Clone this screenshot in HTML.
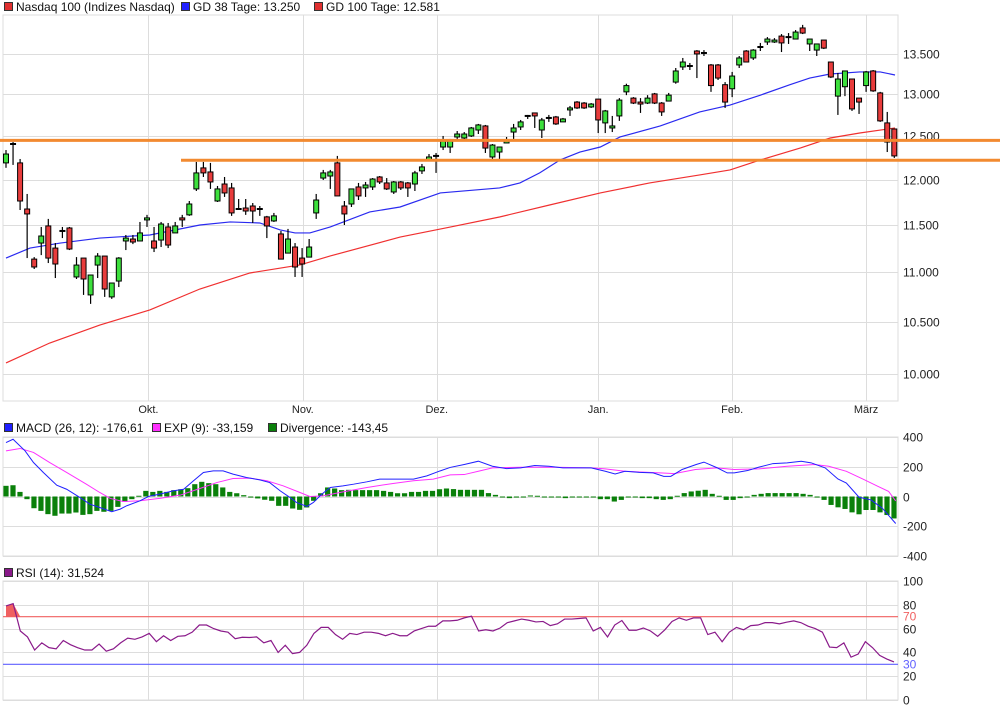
<!DOCTYPE html>
<html><head><meta charset="utf-8"><style>
body{margin:0;background:#fff;}
svg{display:block;font-family:"Liberation Sans",sans-serif;}
</style></head><body>
<svg id="c" width="1000" height="710" xmlns="http://www.w3.org/2000/svg"></svg>
<script>
const opens=[12190,12408,12190,11674,11138,11307,11490,11254,11436,11468,10953,11149,10770,11076,11170,10750,10911,11329,11350,11329,11555,11329,11339,11479,11415,11577,11610,11896,12133,12087,11762,11951,11907,11674,11685,11707,11674,11588,11544,11404,11201,11265,11149,11159,11631,12018,12041,12190,11707,11729,11918,11907,11918,12030,11963,11862,11974,11963,11951,12099,12224,12270,12373,12373,12490,12478,12502,12572,12620,12258,12315,12420,12548,12608,12739,12775,12572,12715,12727,12668,12811,12906,12894,12847,12942,12656,12596,12739,13030,12954,12906,12894,13005,12894,12918,13150,13338,13350,13539,13514,13363,13363,13118,13068,13363,13539,13451,13590,13654,13654,13730,13717,13692,13835,13629,13551,13679,13400,12978,13093,13188,12954,13107,13288,13017,12656,12584];
const closes=[12292,12408,11762,11620,11056,11382,11149,11087,11436,11244,11076,10932,10973,11170,10830,10891,11149,11360,11318,11415,11577,11254,11511,11286,11490,11555,11729,12076,12076,11974,11896,11851,11631,11674,11652,11652,11674,11490,11599,11138,11350,11056,11087,11265,11773,12076,12087,11818,11620,11896,11818,11940,12007,11974,11896,11974,11907,11907,12076,12144,12258,12270,12443,12443,12525,12525,12596,12632,12361,12396,12373,12443,12596,12668,12739,12739,12691,12715,12644,12703,12835,12835,12835,12882,12691,12799,12620,12930,13107,12894,12882,12954,12894,12787,12990,13288,13400,13350,13502,13514,13107,13200,12906,13225,13451,13400,13551,13590,13692,13679,13642,13717,13782,13769,13692,13629,13576,13213,13188,13288,12823,12906,13276,13042,12680,12431,12270];
const highs=[12338,12431,12235,11840,11159,11479,11566,11307,11479,11479,11159,11149,10973,11201,11170,10891,11159,11393,11393,11533,11610,11479,11533,11522,11533,11610,11762,12201,12201,12190,11929,12030,11963,11784,11784,11740,11707,11599,11631,11436,11458,11307,11254,11350,11840,12110,12110,12270,11762,11896,11963,11974,12018,12041,12018,11985,11985,11974,12099,12178,12292,12304,12502,12467,12560,12548,12608,12644,12632,12408,12373,12490,12644,12691,12751,12775,12715,12751,12739,12715,12859,12918,12906,12894,12942,12811,12739,12954,13130,12966,12954,12990,13017,12906,13017,13325,13451,13388,13551,13551,13375,13375,13150,13276,13476,13551,13563,13642,13717,13704,13756,13769,13808,13875,13692,13629,13679,13400,13263,13288,13188,12954,13288,13300,13030,12787,12584];
const lows=[12134,12167,11663,11149,11035,11180,11097,10942,11360,11233,10932,10770,10680,10942,10750,10730,10850,11233,11296,11329,11479,11212,11265,11254,11415,11479,11599,11873,12030,11896,11751,11807,11599,11663,11610,11522,11599,11360,11533,11138,11201,10953,10953,11159,11566,11996,11896,11818,11500,11696,11773,11807,11884,11951,11884,11840,11884,11807,11873,12064,12212,12076,12338,12304,12455,12455,12490,12525,12304,12235,12235,12420,12467,12572,12703,12596,12478,12668,12632,12668,12739,12823,12823,12835,12536,12536,12548,12680,12990,12882,12775,12882,12882,12739,12918,13130,13300,13300,13200,13476,13030,13176,12835,12966,13325,13400,13426,13539,13617,13642,13526,13629,13692,13756,13539,13476,13564,13200,12751,12978,12799,12763,13030,13030,12668,12315,12247];
const ma38Idx=[0,3.4,7.7,13.3,20.4,27.5,31.8,36,38.9,41,43.1,46,51.6,55.9,61.6,70,72.9,75.7,78.6,81.4,84.3,87.1,92.8,98.4,102.7,107,111.2,114,116.9,121.1,124,126.1];
const ma38=[11149,11254,11307,11360,11393,11500,11533,11522,11447,11415,11415,11479,11642,11696,11851,11907,11963,12076,12224,12315,12373,12490,12620,12787,12870,12990,13118,13200,13250,13276,13276,13238];
const ma100Idx=[0,6.2,13.3,20.4,27.5,34.6,41.7,46,55.9,63,70,77.1,84.3,91.3,98.4,102.7,107,112.7,116.9,121.1,126.1];
const ma100=[10104,10295,10470,10619,10830,10994,11077,11171,11371,11478,11587,11718,11851,11963,12053,12110,12224,12362,12478,12537,12596];
const supportLevels=[12450,12220];
const macdIdx=[0,1,2.7,3.9,5.3,7.2,8.6,10.5,11.9,13.3,15,16.2,17.1,19,20.2,21.8,23.7,25.2,26.6,28,29.4,30.8,32.2,34.1,36,37.4,38.9,40.3,41.2,42.7,43.6,44.8,46,47.8,49.3,51.2,53,55.9,57.8,59.7,61.6,63,65,67,69,71,73,75,77,79,81,83,85,86.4,87.8,89.8,91.8,93.3,94.3,95.9,97.9,99,100.9,102.3,103.3,105.2,106.8,108.8,110.8,112.8,114.2,116.2,118,119.2,121,122.7,124.3,126.2];
const macdVals=[364,386,308,229,162,76,49,-7,-52,-74,-103,-85,-63,-29,0,16,38,49,106,162,173,173,151,128,112,94,38,-7,-40,-67,-40,16,61,72,83,99,117,117,117,139,173,196,216,238,204,188,193,209,204,193,193,193,170,152,170,163,159,136,136,182,216,232,193,159,159,175,198,222,227,238,227,193,118,91,-5,-23,-79,-182];
const expIdx=[0,2,3.9,6.2,8.6,11.4,13.3,14.8,16.6,19,21.8,24.7,27.5,29.9,32.2,34.6,37,39.3,41.7,43.1,45,47.8,51.2,54.9,57.8,60.6,63,65,67,69,73,77.9,83,85,87.8,92.8,94.8,97.8,100.8,103.3,106.8,110.8,114.7,116.7,119.2,121.7,123.7,125.2,126.2];
const expVals=[308,324,297,229,162,83,27,-13,-34,-29,-13,9,54,94,121,124,106,72,27,0,4,31,61,88,106,117,146,148,170,193,197,197,193,186,170,159,154,182,193,182,186,204,216,204,170,114,68,34,-30];
const divVals=[72,76,31,-18,-79,-97,-119,-130,-115,-115,-108,-124,-119,-97,-103,-97,-70,-36,-18,5,38,31,38,31,43,49,56,83,99,90,83,61,31,22,9,-7,-13,-22,-29,-63,-63,-81,-90,-74,-29,22,61,54,43,45,43,43,43,43,38,31,22,22,31,31,38,38,49,54,50,45,45,45,45,23,11,-5,-11,-7,-5,7,5,-3,-3,-5,-11,-5,-4,-4,-4,-18,-18,-34,-23,-5,-5,-11,-11,-18,-23,-18,5,23,34,39,45,18,5,-23,-23,-11,-5,11,18,23,23,23,23,23,18,11,-5,-23,-57,-73,-84,-107,-120,-91,-91,-107,-125,-148];
const rsiVals=[79,81,58,53,42,48,44,43,50,46.5,44,42,42,47,41,43,48,52,51,53,56,49,54,50,53.5,54,57,63,63,60,58,57,51.5,52.7,52.5,53,48,50,40,46,39,40,46,56,61,61,55,51,56,55,57,57,56,54,56,54,54,58,60,62,62,66.5,66.5,67,69,70.4,58,59,58,60.5,65,66.5,68,67,65.6,66,62.5,64,68,68,68.5,69,58,61,53,63,66.8,58.6,58.6,60.5,58,53.5,59,66,69,67,69,69,55,57,49,57,61,59,62.5,63,65,65,64,65.4,66.5,65,62,60,57,44.5,44,48,36,38.6,49,44,37.5,34.4,32];
const priceTicks=[10000,10500,11000,11500,12000,12500,13000,13500];
const priceTickLabels=["10.000","10.500","11.000","11.500","12.000","12.500","13.000","13.500"];
const macdTicks=[400,200,0,-200,-400];
const rsiTicks=[100,80,60,40,20,0];
const monthLabels=["Okt.","Nov.","Dez.","Jan.","Feb.","März"];
const monthIdx=[20.2,42.1,61.1,84,103,122];

const NS="http://www.w3.org/2000/svg";
const svg=document.getElementById('c');
function el(tag,attrs,parent){const e=document.createElementNS(NS,tag);for(const k in attrs)e.setAttribute(k,attrs[k]);(parent||svg).appendChild(e);return e;}
const L=3,R=898;
function xOf(i){return 6+i*7.05;}
function yP(v){return 374-1066*Math.log(v/10000);}
function yM(v){return 496.5-v*0.1483;}
function yR(v){return 700-v*1.19;}

// frames and grids
function panel(top,bot,name){
  const r=el('rect',{x:L,y:top,width:R-L,height:bot-top,fill:'none',stroke:'#ddd'});
  
  
  monthIdx.forEach(m=>{const x=Math.round(xOf(m))+0.5;el('line',{x1:x,x2:x,y1:top,y2:bot,stroke:'#ddd'});});
}
panel(15,401,'price-panel');panel(437,556,'macd-panel');panel(581,700,'rsi-panel');

// price grid + labels
priceTicks.forEach((v,k)=>{const y=Math.round(yP(v))+0.5;el('line',{x1:L,x2:R,y1:y,y2:y,stroke:'#ddd'});
  const t=el('text',{x:903,y:y+4,'font-size':12,fill:'#222'});t.textContent=priceTickLabels[k];
  
  });
monthLabels.forEach((m,k)=>{const t=el('text',{x:xOf(monthIdx[k]),y:413,'font-size':11,fill:'#222','text-anchor':'middle'});t.textContent=m;
  
  });

// MAs
function poly(idx,vals,yf,color,name,w){const p=el('polyline',{points:idx.map((i,k)=>xOf(i)+','+yf(vals[k])).join(' '),fill:'none',stroke:color,'stroke-width':w||1});
  
  return p;}
poly(ma100Idx,ma100,yP,'#f03030','gd100-line',1.2);
poly(ma38Idx,ma38,yP,'#2a2af0','gd38-line',1.2);

// candles
const n=Math.min(opens.length,closes.length,highs.length,lows.length);
for(let i=0;i<n;i++){
  const x=xOf(i),o=opens[i],c=closes[i];
  const g=el('g',{});
  
  
  el('line',{x1:x,x2:x,y1:yP(highs[i]),y2:yP(lows[i]),stroke:'#000','stroke-width':1.2},g);
  const t=yP(Math.max(o,c)),b=yP(Math.min(o,c));
  if(b-t<1.5){el('line',{x1:x-3,x2:x+3,y1:t,y2:t,stroke:'#000','stroke-width':2},g);}
  else el('rect',{x:x-2.5,y:t,width:5,height:b-t,fill:c>o?'#3de03d':'#e83c3c',stroke:'#000','stroke-width':1},g);
}
// support lines
supportLevels.forEach((v,k)=>{const y=yP(v);const l=el('line',{x1:k==0?0:181,x2:1000,y1:y,y2:y,stroke:'#f28a30','stroke-width':3});
  
  });

// MACD
macdTicks.forEach(v=>{const y=Math.round(yM(v))+0.5;el('line',{x1:L,x2:R,y1:y,y2:y,stroke:'#ddd'});
  const t=el('text',{x:903,y:y+4,'font-size':12,fill:'#222'});t.textContent=v;
  
  });
divVals.forEach((v,k)=>{const x=6+k*(888/(divVals.length-1));const y0=yM(0),y1=yM(v);
  const r=el('rect',{x:x-2.6,y:Math.min(y0,y1),width:5.2,height:Math.max(1,Math.abs(y1-y0)),fill:'#0a800a'});
  
  });
poly(expIdx,expVals,yM,'#ff30ff','exp-line',1);
poly(macdIdx,macdVals,yM,'#2020ff','macd-line',1);

// RSI
rsiTicks.forEach(v=>{const y=Math.round(yR(v))+0.5;el('line',{x1:L,x2:R,y1:y,y2:y,stroke:'#ddd'});
  const t=el('text',{x:903,y:y+4,'font-size':12,fill:'#222'});t.textContent=v;
  
  });
const rx=k=>6+k*(888/(rsiVals.length-1));
// overbought fill
let fp=[];rsiVals.forEach((v,k)=>{if(k<3){fp.push(rx(k)+','+yR(Math.max(v,70)));}});
el('polygon',{points:rx(0)+','+yR(70)+' '+fp.join(' ')+' '+rx(2)+','+yR(70),fill:'#f06060'});
[[70,'#f06060','rsi-70-line'],[30,'#6060ff','rsi-30-line']].forEach(a=>{const y=yR(a[0]);const l=el('line',{x1:L,x2:R,y1:y,y2:y,stroke:a[1],'stroke-width':1.2});
  
  
  const t=el('text',{x:903,y:y+4,'font-size':12,fill:a[1]});t.textContent=a[0];});
const rp=el('polyline',{points:rsiVals.map((v,k)=>rx(k)+','+yR(v)).join(' '),fill:'none',stroke:'#8a1a8a','stroke-width':1.2});



// legends
function legend(items,y){items.forEach(it=>{const g=el('g',{});
  
  
  el('rect',{x:it[0]+0.5,y:y-8.5,width:8,height:8,fill:it[3],stroke:'#333'},g);
  const t=el('text',{x:it[0]+12,y:y,'font-size':12,fill:'#111'},g);t.textContent=it[1];});}
legend([[4,'Nasdaq 100 (Indizes Nasdaq)','legend-nasdaq','#e03030'],[181,'GD 38 Tage: 13.250','legend-gd38','#2020ff'],[314,'GD 100 Tage: 12.581','legend-gd100','#e03030']],11);
legend([[4,'MACD (26, 12): -176,61','legend-macd','#2020ff'],[152,'EXP (9): -33,159','legend-exp','#ff30ff'],[268,'Divergence: -143,45','legend-divergence','#0a800a']],432);
legend([[4,'RSI (14): 31,524','legend-rsi','#8a1a8a']],577);
</script>
</body></html>
